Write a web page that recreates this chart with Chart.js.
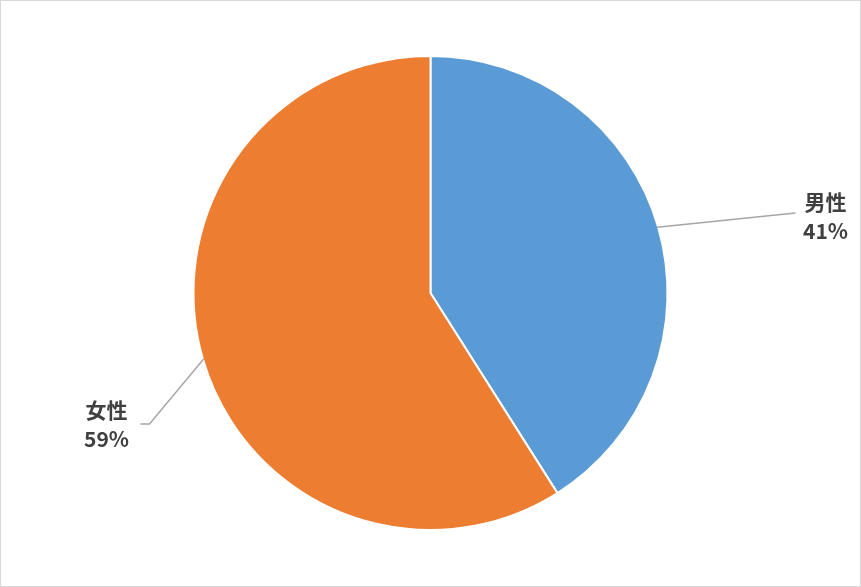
<!DOCTYPE html>
<html>
<head>
<meta charset="utf-8">
<script src="https://cdn.jsdelivr.net/npm/chart.js@4/dist/chart.umd.min.js"></script>
<style>
  html, body { margin: 0; padding: 0; background: #fff; }
  #wrap { position: relative; width: 861px; height: 587px; }
</style>
</head>
<body>
<div id="wrap"><canvas id="c"></canvas></div>
<script>
const categories = ['男性', '女性'];
const values = [41, 59];
const colors = ['#5B9BD5', '#ED7D31'];

// label placement (styling): elbow/end offsets from pie centre, text offsets from line end
const labelLayout = [
  { elbow: null, end: [365, -80], text: [30, -11, 18] },
  { elbow: [-281, 131], end: [-290, 131], text: [-34, -14, 15] }
];

const leaderPlugin = {
  id: 'leaders',
  beforeDraw(chart) {
    const ctx = chart.ctx;
    ctx.save();
    ctx.fillStyle = '#fff';
    ctx.fillRect(0, 0, chart.width, chart.height);
    ctx.strokeStyle = '#D9D9D9';
    ctx.lineWidth = 1;
    ctx.strokeRect(0.5, 0.5, chart.width - 1, chart.height - 1);
    ctx.restore();
  },
  afterDatasetsDraw(chart) {
    const ctx = chart.ctx;
    const meta = chart.getDatasetMeta(0);
    const total = values.reduce((a, b) => a + b, 0);
    meta.data.forEach((arc, i) => {
      const p = arc.getProps(['x', 'y', 'startAngle', 'endAngle', 'outerRadius'], true);
      const mid = (p.startAngle + p.endAngle) / 2;
      const sx = p.x + Math.cos(mid) * (p.outerRadius - 1);
      const sy = p.y + Math.sin(mid) * (p.outerRadius - 1);
      const L = labelLayout[i];
      ctx.save();
      ctx.strokeStyle = '#A6A6A6';
      ctx.lineWidth = 1.5;
      ctx.beginPath();
      ctx.moveTo(sx, sy);
      if (L.elbow) ctx.lineTo(p.x + L.elbow[0], p.y + L.elbow[1]);
      const ex = p.x + L.end[0], ey = p.y + L.end[1];
      ctx.lineTo(ex, ey);
      ctx.stroke();
      ctx.fillStyle = '#404040';
      ctx.font = 'bold 21px "Noto Sans CJK JP", "Noto Sans", sans-serif';
      ctx.textAlign = 'center';
      ctx.textBaseline = 'middle';
      const pct = Math.round(values[i] / total * 100) + '%';
      ctx.fillText(categories[i], ex + L.text[0], ey + L.text[1]);
      ctx.fillText(pct, ex + L.text[0], ey + L.text[2]);
      ctx.restore();
    });
  }
};

new Chart(document.getElementById('c'), {
  type: 'pie',
  data: {
    labels: categories,
    datasets: [{
      data: values,
      backgroundColor: colors,
      borderColor: '#ffffff',
      borderWidth: 2
    }]
  },
  options: {
    responsive: true,
    maintainAspectRatio: false,
    animation: false,
    layout: { padding: { top: 55, bottom: 56, left: 0, right: 0 } },
    plugins: {
      legend: { display: false },
      tooltip: { enabled: false }
    }
  },
  plugins: [leaderPlugin]
});
</script>
</body>
</html>
